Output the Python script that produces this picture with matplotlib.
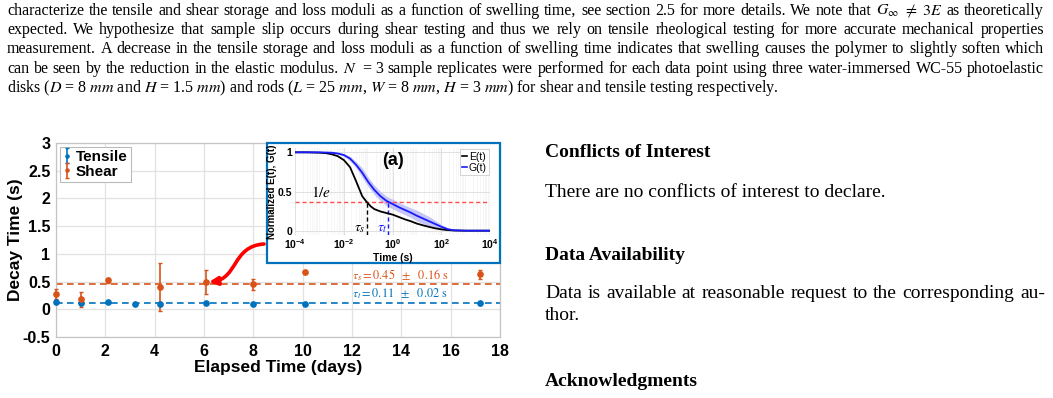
import numpy as np
import matplotlib
matplotlib.use('Agg')
import matplotlib.pyplot as plt
from matplotlib.transforms import Affine2D
from matplotlib.patches import Rectangle, FancyArrowPatch
from matplotlib.path import Path
from matplotlib.lines import Line2D
import matplotlib.ticker as mticker

# ---------------- data ----------------
days_tensile = [0, 1, 2.1, 3.2, 4.2, 6.1, 8, 10.1, 17.2]
tau_tensile = [0.125, 0.11, 0.125, 0.09, 0.09, 0.11, 0.095, 0.095, 0.11]
err_tensile = [0.02, 0.02, 0.015, 0.01, 0.02, 0.015, 0.025, 0.01, 0.03]

days_shear = [0, 1, 2.1, 4.2, 6.1, 8, 10.1, 17.2]
tau_shear = [0.28, 0.18, 0.52, 0.40, 0.49, 0.45, 0.67, 0.63]
err_shear = [0.09, 0.14, 0.04, 0.43, 0.22, 0.10, 0.03, 0.08]

mean_shear = 0.45
mean_tensile = 0.11
series_labels = ['Tensile', 'Shear']
x_ticks = [0, 2, 4, 6, 8, 10, 12, 14, 16, 18]
y_ticks = [-0.5, 0, 0.5, 1, 1.5, 2, 2.5, 3]

# inset curves (log10 of time in s)
logt_E = [-4, -3.5, -3, -2.75, -2.5, -2.25, -2, -1.75, -1.5, -1.25, -1.1, -1.0, -0.9,
          -0.75, -0.5, -0.25, 0, 0.25, 0.5, 0.75, 1.0, 1.25, 1.5, 1.75, 2.0, 2.25, 2.5, 3, 4]
E_norm = [1.0, 1.0, 0.995, 0.99, 0.975, 0.95, 0.90, 0.81, 0.63, 0.44, 0.38, 0.345, 0.31,
          0.275, 0.245, 0.225, 0.205, 0.175, 0.145, 0.12, 0.09, 0.068, 0.048, 0.03, 0.017,
          0.008, 0.003, 0.0, 0.0]
logt_G = [-4, -3, -2.5, -2.25, -2, -1.75, -1.5, -1.25, -1, -0.75, -0.5, -0.25, 0, 0.25,
          0.5, 0.75, 1.0, 1.25, 1.5, 1.75, 2.0, 2.25, 2.5, 3, 4]
G_norm = [1.0, 1.0, 0.995, 0.985, 0.965, 0.92, 0.84, 0.74, 0.62, 0.52, 0.44, 0.38, 0.34,
          0.30, 0.265, 0.23, 0.19, 0.155, 0.12, 0.085, 0.05, 0.02, 0.005, 0.0, 0.0]
G_upper = [1.0, 1.0, 1.0, 0.995, 0.98, 0.95, 0.88, 0.80, 0.68, 0.58, 0.50, 0.44, 0.40,
           0.36, 0.325, 0.29, 0.26, 0.22, 0.18, 0.13, 0.08, 0.04, 0.012, 0.0, 0.0]
G_lower = [1.0, 1.0, 0.99, 0.975, 0.95, 0.89, 0.80, 0.68, 0.56, 0.46, 0.38, 0.32, 0.28,
           0.24, 0.205, 0.17, 0.12, 0.09, 0.06, 0.04, 0.02, 0.005, 0.0, 0.0, 0.0]
tau_s_inset = 0.087
tau_t_inset = 0.63
inset_xticks = [1e-4, 1e-2, 1e0, 1e2, 1e4]
inset_xticklabels = [r'$10^{-4}$', r'$10^{-2}$', r'$10^{0}$', r'$10^{2}$', r'$10^{4}$']
inset_yticks = [0, 0.5, 1]

para_lines = [
    r"characterize the tensile and shear storage and loss moduli as a function of swelling time, see section 2.5 for more details. We note that $G_{\infty}$ $\neq$ $3E$ as theoretically",
    "expected. We hypothesize that sample slip occurs during shear testing and thus we rely on tensile rheological testing for more accurate mechanical properties",
    "measurement. A decrease in the tensile storage and loss moduli as a function of swelling time indicates that swelling causes the polymer to slightly soften which",
    r"can be seen by the reduction in the elastic modulus. $N$ = 3 sample replicates were performed for each data point using three water-immersed WC-55 photoelastic",
    r"disks ($D$ = 8 $mm$ and $H$ = 1.5 $mm$) and rods ($L$ = 25 $mm$, $W$ = 8 $mm$, $H$ = 3 $mm$) for shear and tensile testing respectively.",
]

# ---------------- style ----------------
W, H, DPI = 1053, 398, 100
C_BLUE = '#0072BD'
C_ORANGE = '#D95319'
plt.rcParams['mathtext.fontset'] = 'custom'
plt.rcParams['mathtext.rm'] = 'Liberation Sans:bold'
plt.rcParams['mathtext.it'] = 'Liberation Sans:italic:bold'
plt.rcParams['mathtext.bf'] = 'Liberation Sans:bold'
plt.rcParams['font.family'] = 'Liberation Sans'
plt.rcParams['axes.unicode_minus'] = False

fig = plt.figure(figsize=(W / DPI, H / DPI), dpi=DPI)
fig.patch.set_facecolor('white')
renderer = fig.canvas.get_renderer()
trans = Affine2D().scale(1, -1).translate(0, H)  # pixel coords from top-left

# ---------------- main axes ----------------
ax = fig.add_axes([56 / W, 1 - 337 / H, 444 / W, (337 - 143.1) / H], zorder=0)
ax.set_xlim(0, 18)
ax.set_ylim(-0.5, 3)
ax.set_xticks(x_ticks)
ax.set_yticks(y_ticks)
ax.yaxis.set_major_formatter(mticker.FuncFormatter(lambda v, p: '%g' % v))
ax.grid(True, color='#e2e2e2', lw=0.9)
ax.set_axisbelow(True)
for s in ax.spines.values():
    s.set_color('#c4c4c4')
    s.set_linewidth(0.9)
ax.tick_params(length=0, labelsize=11.5, pad=4)
ax.tick_params(axis='x', pad=5)
for lbl in ax.get_xticklabels() + ax.get_yticklabels():
    lbl.set_fontweight('bold')

ax.axhline(mean_shear, color=C_ORANGE, ls=(0, (4, 2.6)), lw=1.2, zorder=2)
ax.axhline(mean_tensile, color=C_BLUE, ls=(0, (4, 2.6)), lw=1.2, zorder=2)
eb1 = ax.errorbar(days_tensile, tau_tensile, yerr=err_tensile, fmt='o', color=C_BLUE, ms=3.8,
                  capsize=1.5, elinewidth=1.2, label=series_labels[0], zorder=3)
eb2 = ax.errorbar(days_shear, tau_shear, yerr=err_shear, fmt='o', color=C_ORANGE, ms=3.8,
                  capsize=1.5, elinewidth=1.2, label=series_labels[1], zorder=3)
for eb in (eb1, eb2):
    for art in eb.get_children():
        art.set_clip_on(False)
leg = ax.legend(loc='upper left', prop={'weight': 'bold', 'size': 11}, handlelength=0.5,
                handletextpad=0.35, borderpad=0.2, labelspacing=0.05, borderaxespad=0.25,
                fancybox=False, edgecolor='#bbbbbb', framealpha=1, markerscale=0.6)
leg.get_frame().set_linewidth(0.8)

ax.set_xlabel('Elapsed Time (days)', fontsize=12.5, fontweight='bold', labelpad=1)
ax.set_ylabel('Decay Time (s)', fontsize=12.5, fontweight='bold', labelpad=0)

ax.text(12.0, 0.62, r'$\tau_s = 0.45\ \ \pm\ \ 0.16\ \mathrm{s}$', color=C_ORANGE, fontsize=8.8,
        math_fontfamily='stix', family='Liberation Serif', va='center', ha='left')
ax.text(12.0, 0.276, r'$\tau_t = 0.11\ \ \pm\ \ 0.02\ \mathrm{s}$', color=C_BLUE, fontsize=8.8,
        math_fontfamily='stix', family='Liberation Serif', va='center', ha='left')

# ---------------- inset ----------------
frame = Rectangle((267, 142.5), 232.5, 120.5, transform=trans, facecolor='white',
                  edgecolor=C_BLUE, lw=1.6, zorder=2)
fig.patches.append(frame)

axi = fig.add_axes([295.3 / W, 1 - 234.6 / H, 194.7 / W, 86.2 / H], zorder=3)
axi.set_xscale('log')
axi.set_xlim(1e-4, 1e4)
axi.set_ylim(-0.05, 1.05)
axi.set_xticks(inset_xticks)
axi.set_xticklabels(inset_xticklabels)
axi.xaxis.set_minor_locator(mticker.LogLocator(base=10, subs=np.arange(2, 10), numticks=50))
axi.xaxis.set_minor_formatter(mticker.NullFormatter())
axi.set_yticks(inset_yticks)
axi.set_yticklabels(['0', '0.5', '1'])
axi.grid(True, which='major', color='#dcdcdc', lw=0.6)
axi.grid(True, which='minor', axis='x', color='#efefef', lw=0.4)
axi.set_axisbelow(True)
for s in axi.spines.values():
    s.set_visible(False)
axi.tick_params(which='both', length=0, labelsize=7.5, pad=2)
for lbl in axi.get_xticklabels() + axi.get_yticklabels():
    lbl.set_fontweight('bold')

axi.fill_between(10 ** np.array(logt_G), G_lower, G_upper, color='#c6c6f6', lw=0, zorder=1)
axi.plot(10 ** np.array(logt_E), E_norm, color='black', lw=1.3, zorder=3)
axi.plot(10 ** np.array(logt_G), G_norm, color='#1a1aff', lw=1.3, zorder=3)
axi.axhline(1 / np.e, color='#ff4d4d', ls=(0, (3, 2)), lw=1.0, zorder=2)
axi.vlines(tau_s_inset, -0.05, 1 / np.e, color='black', ls=(0, (3, 2)), lw=1.0, zorder=2)
axi.vlines(tau_t_inset, -0.05, 1 / np.e, color='#1a1aff', ls=(0, (3, 2)), lw=1.0, zorder=2)
axi.text(1.1e-3, 0.49, r'$1/e$', fontsize=11, math_fontfamily='stix', va='center', ha='center')
axi.text(0.046, 0.035, r'$\tau_s$', fontsize=10, math_fontfamily='stix', va='center', ha='center')
axi.text(0.36, 0.035, r'$\tau_t$', fontsize=10, math_fontfamily='stix', va='center', ha='center',
         color='#1a1aff')
axi.text(1.0, 0.9, '(a)', fontsize=13, fontweight='bold', va='center', ha='center')
ileg = axi.legend([Line2D([], [], color='black', lw=1.2), Line2D([], [], color='#1a1aff', lw=1.2)],
                  ['E(t)', 'G(t)'], loc='upper right', fontsize=7.5, handlelength=0.5,
                  handletextpad=0.2, borderpad=0.2, labelspacing=0.15, borderaxespad=0.1,
                  fancybox=False, edgecolor='#cccccc', framealpha=1)
ileg.get_frame().set_linewidth(0.6)
axi.set_xlabel('Time (s)', fontsize=7.5, fontweight='bold', labelpad=1.5)
axi.set_ylabel('Normalized E(t), G(t)', fontsize=7, fontweight='bold', labelpad=1)

# ---------------- red curved arrow ----------------
arrow_path = Path([(264, 244), (232, 246), (238, 279), (209, 282)],
                  [Path.MOVETO, Path.CURVE4, Path.CURVE4, Path.CURVE4])
arr = FancyArrowPatch(path=arrow_path, transform=trans, arrowstyle='-|>', mutation_scale=12,
                      color='#ff0000', lw=2.6, zorder=2.5)
fig.patches.append(arr)

# ---------------- page text ----------------
def justified(text, y, x0, x1, size, weight='normal'):
    words = text.split(' ')
    objs = [fig.text(0, 0, w, transform=trans, fontsize=size, family='Liberation Serif',
                     math_fontfamily='stix', fontweight=weight, va='baseline', ha='left')
            for w in words]
    widths = [o.get_window_extent(renderer).width for o in objs]
    gap = (x1 - x0 - sum(widths)) / (len(words) - 1)
    x = x0
    for o, wd in zip(objs, widths):
        o.set_position((x, y))
        x += wd + gap


def plain(text, x, y, size, weight='normal'):
    fig.text(x, y, text, transform=trans, fontsize=size, family='Liberation Serif',
             math_fontfamily='stix', fontweight=weight, va='baseline', ha='left')


base = [15.0, 34.2, 53.4, 72.6, 91.8]
for i, line in enumerate(para_lines):
    if i < len(para_lines) - 1:
        justified(line, base[i], 7, 1044, 11.5)
    else:
        plain(line, 7, base[i], 11.5)

plain('Conflicts of Interest', 545, 157, 14, 'bold')
plain('There are no conflicts of interest to declare.', 545, 197, 14)
plain('Data Availability', 545, 260, 14, 'bold')
justified('Data is available at reasonable request to the corresponding au-', 298.5, 545, 1045, 14)
plain('thor.', 545, 320.5, 14)
plain('Acknowledgments', 545, 386.5, 14, 'bold')

fig.savefig('out.png', dpi=DPI)
